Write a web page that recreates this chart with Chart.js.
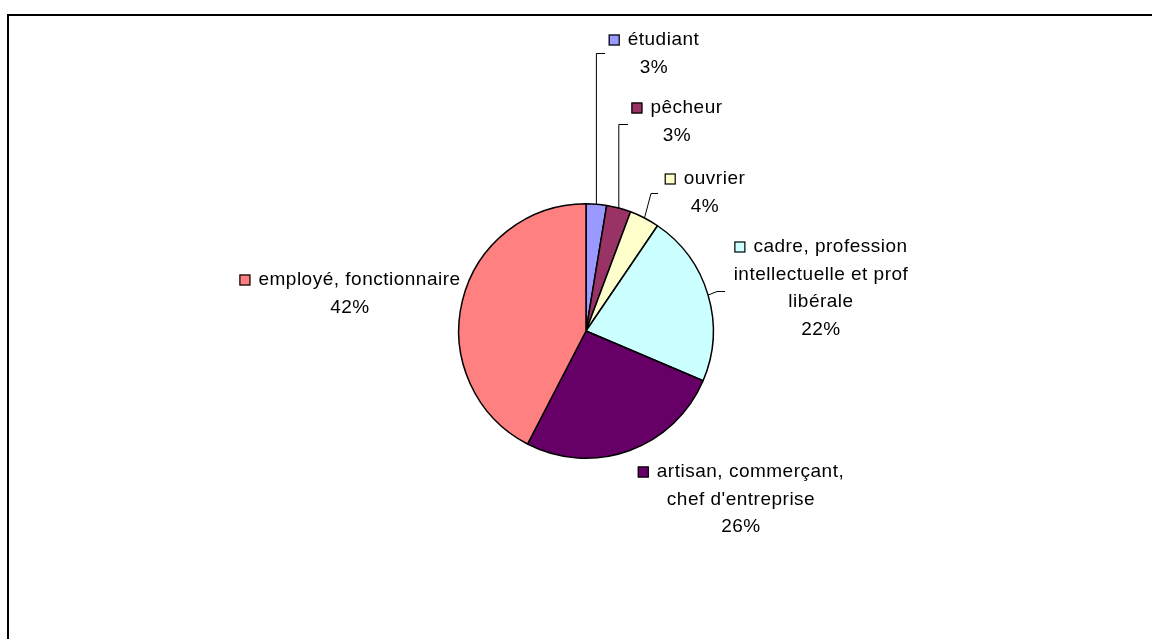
<!DOCTYPE html>
<html>
<head>
<meta charset="utf-8">
<script src="https://cdn.jsdelivr.net/npm/chart.js@4/dist/chart.umd.min.js"></script>
<style>
  html, body { margin: 0; padding: 0; background: #fff; overflow: hidden; }
  #wrap { position: relative; width: 1152px; height: 639px; }
</style>
</head>
<body>
<div id="wrap"><canvas id="camembert" width="1152" height="639"></canvas></div>
<script>
// categories (in clockwise order from the top)
const categories = [
    ['étudiant'],
    ['pêcheur'],
    ['ouvrier'],
    ['cadre, profession', 'intellectuelle et prof', 'libérale'],
    ['artisan, commerçant,', "chef d'entreprise"],
    ['employé, fonctionnaire']
];
// share of each category (%)
const valeurs = [2.6, 3.1, 3.8, 21.9, 26.2, 42.4];
const couleurs = ['#9999FF', '#993366', '#FFFFCC', '#CCFFFF', '#660066', '#FF8080'];

// label placement: centre x of the block and y of first line
const posEtiquettes = [
    [654, 40], [677, 108], [705, 179], [821, 247], [741, 472], [350, 280]
];
// leader lines: [elbow x (null = straight up from slice), elbow y, end x]
const traits = [
    [null, 53, 605],
    [null, 124, 628],
    [651, 193, 658],
    [717, 291, 725],
    null,
    null
];

const total = valeurs.reduce((a, b) => a + b, 0);

const cadrePlugin = {
    id: 'cadre',
    beforeDraw(chart) {
        const ctx = chart.ctx;
        ctx.save();
        ctx.fillStyle = '#fff';
        ctx.fillRect(0, 0, chart.width, chart.height);
        ctx.strokeStyle = '#000';
        ctx.lineWidth = 2;
        ctx.strokeRect(8, 15, chart.width + 20, chart.height + 20);
        ctx.restore();
    }
};

const etiquettesPlugin = {
    id: 'etiquettes',
    afterDraw(chart) {
        const ctx = chart.ctx;
        const arcs = chart.getDatasetMeta(0).data;
        ctx.save();
        ctx.font = '19px "Liberation Sans", Arial, sans-serif';
        ctx.letterSpacing = '0.5px';
        ctx.fillStyle = '#000';
        ctx.textBaseline = 'middle';

        arcs.forEach((arc, i) => {
            const p = arc.getProps(['x', 'y', 'startAngle', 'endAngle', 'outerRadius'], true);
            const mid = (p.startAngle + p.endAngle) / 2;
            const sx = p.x + Math.cos(mid) * p.outerRadius;
            const sy = p.y + Math.sin(mid) * p.outerRadius;

            const t = traits[i];
            if (t) {
                const ex = t[0] === null ? sx : t[0];
                ctx.beginPath();
                ctx.strokeStyle = '#000';
                ctx.lineWidth = 1;
                ctx.moveTo(sx, sy);
                ctx.lineTo(ex, t[1] + 0.5);
                ctx.lineTo(t[2], t[1] + 0.5);
                ctx.stroke();
            }

            const [cx, y0] = posEtiquettes[i];
            const lignes = categories[i].concat([Math.round(valeurs[i] / total * 100) + '%']);
            const pas = 27.5;
            lignes.forEach((txt, k) => {
                const y = y0 + k * pas;
                const w = ctx.measureText(txt).width;
                if (k === 0) {
                    const carre = 11, gap = 8;
                    const full = carre + gap + w;
                    const x0 = cx - full / 2;
                    ctx.fillStyle = couleurs[i];
                    ctx.fillRect(x0, y - 5.5, carre, carre);
                    ctx.strokeStyle = '#000';
                    ctx.lineWidth = 1.2;
                    ctx.strokeRect(x0 + 0.5, y - 5, carre - 1, carre - 1);
                    ctx.fillStyle = '#000';
                    ctx.textAlign = 'left';
                    ctx.fillText(txt, x0 + carre + gap, y);
                } else {
                    ctx.textAlign = 'center';
                    ctx.fillText(txt, cx, y);
                }
            });
        });
        ctx.restore();
    }
};

new Chart(document.getElementById('camembert'), {
    type: 'pie',
    data: {
        labels: categories.map(c => c.join(' ')),
        datasets: [{
            data: valeurs,
            backgroundColor: couleurs,
            borderColor: '#000',
            borderWidth: 1.5
        }]
    },
    options: {
        responsive: false,
        animation: false,
        layout: {
            padding: { left: 458, top: 203, right: 438, bottom: 180 }
        },
        plugins: {
            legend: { display: false },
            tooltip: { enabled: false }
        }
    },
    plugins: [cadrePlugin, etiquettesPlugin]
});
</script>
</body>
</html>
